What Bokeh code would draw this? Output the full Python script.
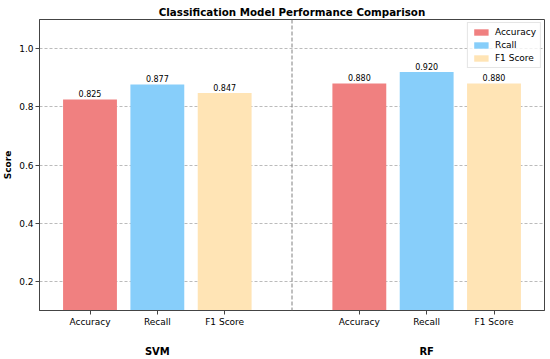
from bokeh.plotting import figure
from bokeh.models import (ColumnDataSource, FixedTicker, LinearAxis, Span, Range1d, Legend)
from bokeh.embed import file_html
from bokeh.resources import INLINE
from bokeh.core.properties import value

models = ["SVM", "RF"]
metrics = ["Accuracy", "Recall", "F1 Score"]
legend_labels = ["Accuracy", "Rcall", "F1 Score"]
svm_scores = [0.825, 0.877, 0.847]
rf_scores = [0.880, 0.920, 0.880]
colors = ["#F08080", "#87CEFA", "#FFE4B5"]

scores = {"SVM": svm_scores, "RF": rf_scores}

FONT = "DejaVu Sans"

p = figure(width=550, height=359, output_backend="svg", toolbar_location=None,
           x_range=Range1d(-0.75, 6.75), y_range=Range1d(0.1, 1.1),
           min_border_left=39, min_border_right=6, min_border_top=19, min_border_bottom=48)

p.title.text = "Classification Model Performance Comparison"
p.title.align = "center"
p.title.text_font = FONT
p.title.text_font_size = "10.3px"
p.title.text_font_style = "bold"
p.title.text_color = "black"
p.title.standoff = 4
p.title.offset = 0

legend_items = []
for mi, metric in enumerate(metrics):
    xs = [gi * 4 + mi for gi in range(len(models))]
    ys = [scores[m][mi] for m in models]
    src = ColumnDataSource(dict(x=xs, top=ys, lab=["%.3f" % v for v in ys],
                                ty=[v + 0.008 for v in ys]))
    r = p.vbar(x="x", top="top", bottom=0, width=0.8, source=src,
               fill_color=colors[mi], line_color=None)
    legend_items.append((legend_labels[mi], [r]))
    p.text(x="x", y="ty", text="lab", source=src, text_align="center",
           text_baseline="bottom", text_font=value(FONT), text_font_size="8px",
           text_color="black")

legend = Legend(items=legend_items, location="top_right")
legend.label_text_font = FONT
legend.label_text_font_size = "9px"
legend.label_text_color = "black"
legend.glyph_height = 8
legend.glyph_width = 18
legend.label_height = 9
legend.spacing = 3
legend.padding = 4
legend.margin = 3
legend.border_line_color = "#cccccc"
legend.border_line_width = 1
legend.background_fill_alpha = 0.8
p.add_layout(legend)

p.add_layout(Span(location=3, dimension="height", line_color="gray",
                  line_dash="4 2", line_width=1))

tick_pos = [gi * 4 + mi for gi in range(len(models)) for mi in range(len(metrics))]
p.xaxis.ticker = FixedTicker(ticks=tick_pos)
p.xaxis.major_label_overrides = {t: metrics[t % 4] for t in tick_pos}
p.xaxis.minor_tick_line_color = None
p.xgrid.visible = False

p.yaxis.ticker = FixedTicker(ticks=[0.2, 0.4, 0.6, 0.8, 1.0])
p.yaxis.major_label_overrides = {0.2: "0.2", 0.4: "0.4", 0.6: "0.6", 0.8: "0.8", 1.0: "1.0"}
p.yaxis.minor_tick_line_color = None
p.yaxis.axis_label = "Score"
p.yaxis.axis_label_text_font = FONT
p.yaxis.axis_label_text_font_style = "bold"
p.yaxis.axis_label_text_font_size = "9px"
p.yaxis.axis_label_text_color = "black"
p.yaxis.axis_label_standoff = 3

for ax in (p.xaxis[0], p.yaxis[0]):
    ax.major_label_text_font = FONT
    ax.major_label_text_font_size = "9px"
    ax.major_label_text_color = "black"
    ax.axis_line_color = "#444444"
    ax.major_tick_line_color = "#444444"
    ax.major_tick_out = 4
    ax.major_tick_in = 0
    ax.major_label_standoff = 2

p.ygrid.grid_line_color = "#bbbbbb"
p.ygrid.grid_line_dash = "3 2"
p.ygrid.grid_line_width = 1

p.outline_line_color = "#444444"
p.outline_line_width = 1

group_axis = LinearAxis(ticker=FixedTicker(ticks=[1, 5]),
                        major_label_overrides={1: "SVM", 5: "RF"})
group_axis.axis_line_color = None
group_axis.major_tick_line_color = None
group_axis.minor_tick_line_color = None
group_axis.major_tick_out = 0
group_axis.major_tick_in = 0
group_axis.major_label_text_font = FONT
group_axis.major_label_text_font_style = "bold"
group_axis.major_label_text_font_size = "10px"
group_axis.major_label_text_color = "black"
group_axis.major_label_standoff = 16
p.add_layout(group_axis, "below")

open("out.html", "w").write(file_html(p, INLINE))
